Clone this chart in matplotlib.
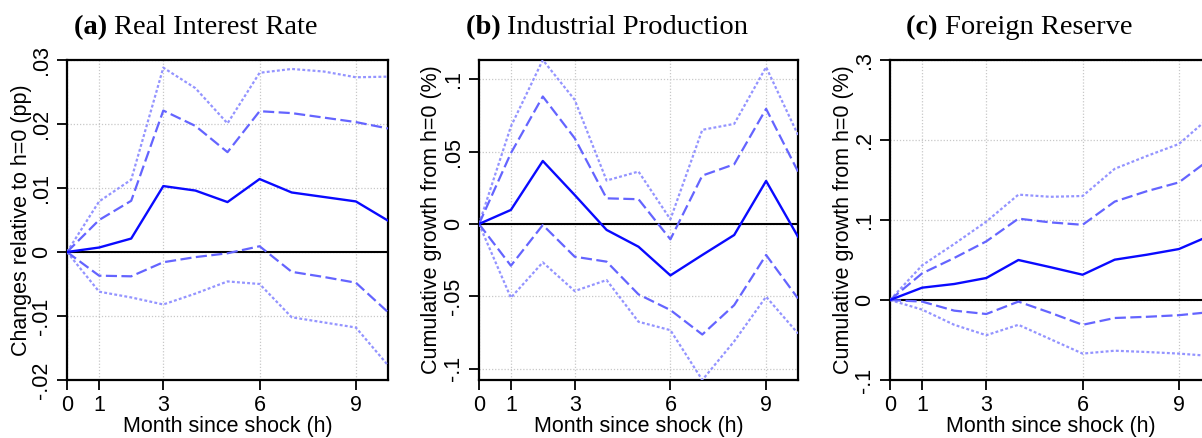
import matplotlib
matplotlib.use("Agg")
import matplotlib.pyplot as plt
import numpy as np

# Horizon (months since shock)
horizon = list(range(11))
xticks = [0, 1, 3, 6, 9]

# (a) Real interest rate: point estimate and 90% / 95% bands
irf_a = [0, 0.0007, 0.0021, 0.0103, 0.0096, 0.0078, 0.0114, 0.0093, 0.0086, 0.0079, 0.0049]
hi90_a = [0, 0.0050, 0.0080, 0.0221, 0.0197, 0.0156, 0.0220, 0.0217, 0.0210, 0.0203, 0.0193]
hi95_a = [0, 0.0079, 0.0113, 0.0288, 0.0256, 0.0201, 0.0280, 0.0286, 0.0282, 0.0273, 0.0274]
lo90_a = [0, -0.0037, -0.0038, -0.0016, -0.0008, -0.0002, 0.0009, -0.0031, -0.0039, -0.0048, -0.0094]
lo95_a = [0, -0.0062, -0.0071, -0.0082, -0.0065, -0.0046, -0.0050, -0.0102, -0.0110, -0.0118, -0.0177]
yticks_a = [-0.02, -0.01, 0, 0.01, 0.02, 0.03]
yticklabels_a = ["-.02", "-.01", "0", ".01", ".02", ".03"]

# (b) Industrial production
irf_b = [0, 0.0097, 0.0435, 0.0200, -0.0041, -0.0157, -0.0355, -0.0214, -0.0076, 0.0297, -0.0088]
hi90_b = [0, 0.0489, 0.0880, 0.0592, 0.0177, 0.0171, -0.0106, 0.0334, 0.0412, 0.0795, 0.0362]
hi95_b = [0, 0.0673, 0.1132, 0.0857, 0.0300, 0.0362, 0.0032, 0.0650, 0.0691, 0.1083, 0.0615]
lo90_b = [0, -0.0288, -0.0007, -0.0226, -0.0260, -0.0486, -0.0594, -0.0763, -0.0560, -0.0214, -0.0514]
lo95_b = [0, -0.0509, -0.0265, -0.0463, -0.0387, -0.0675, -0.0733, -0.1077, -0.0810, -0.0502, -0.0756]
yticks_b = [-0.1, -0.05, 0, 0.05, 0.1]
yticklabels_b = ["-.1", "-.05", "0", ".05", ".1"]

# (c) Foreign reserve
irf_c = [0, 0.0154, 0.0200, 0.0275, 0.0500, 0.0410, 0.0316, 0.0504, 0.0566, 0.0637, 0.0810]
hi90_c = [0, 0.0333, 0.0525, 0.0733, 0.1017, 0.0970, 0.0940, 0.1230, 0.1360, 0.1470, 0.1770]
hi95_c = [0, 0.0433, 0.0700, 0.0980, 0.1317, 0.1290, 0.1300, 0.1640, 0.1800, 0.1950, 0.2300]
lo90_c = [0, -0.0020, -0.0133, -0.0175, -0.0020, -0.0160, -0.0310, -0.0225, -0.0210, -0.0190, -0.0150]
lo95_c = [0, -0.0120, -0.0310, -0.0440, -0.0310, -0.0490, -0.0670, -0.0634, -0.0650, -0.0670, -0.0700]
yticks_c = [-0.1, 0, 0.1, 0.2, 0.3]
yticklabels_c = ["-.1", "0", ".1", ".2", ".3"]

titles_bold = ["(a)", "(b)", "(c)"]
titles = ["Real Interest Rate", "Industrial Production", "Foreign Reserve"]
ylabels = ["Changes relative to h=0 (pp)",
           "Cumulative growth from h=0 (%)",
           "Cumulative growth from h=0 (%)"]
xlabel = "Month since shock (h)"

W, H, DPI = 1202, 438, 100
fig = plt.figure(figsize=(W / DPI, H / DPI), dpi=DPI)

SANS = "Liberation Sans"
SERIF = "Liberation Serif"
C_IRF = "#0a0aff"
C_90 = "#6464ff"
C_95 = "#9494ff"

# panel boxes in pixels: left, top, right, bottom
boxes = [(67, 60, 388, 380), (479, 60, 798, 380), (890, 60, 1211, 380)]
title_centers = [196, 607, 1019]
ylabel_x = [21, 431, 843]

panels = [
    (irf_a, hi90_a, hi95_a, lo90_a, lo95_a, yticks_a, yticklabels_a),
    (irf_b, hi90_b, hi95_b, lo90_b, lo95_b, yticks_b, yticklabels_b),
    (irf_c, hi90_c, hi95_c, lo90_c, lo95_c, yticks_c, yticklabels_c),
]

renderer = fig.canvas.get_renderer()

for i, (irf, hi90, hi95, lo90, lo95, yt, ytl) in enumerate(panels):
    l, t, r, b = boxes[i]
    ax = fig.add_axes([l / W, 1 - b / H, (r - l) / W, (b - t) / H])

    ax.grid(True, color="#c8c8c8", linestyle=(0, (1, 1.5)), linewidth=0.9)
    ax.set_axisbelow(True)
    ax.axhline(0, color="black", linewidth=1.5, zorder=2)

    ax.plot(horizon, hi95, color=C_95, linewidth=1.6, linestyle=(0, (1.3, 1.0)), zorder=3)
    ax.plot(horizon, lo95, color=C_95, linewidth=1.6, linestyle=(0, (1.3, 1.0)), zorder=3)
    ax.plot(horizon, hi90, color=C_90, linewidth=1.6, linestyle=(0, (5, 2)), zorder=3)
    ax.plot(horizon, lo90, color=C_90, linewidth=1.6, linestyle=(0, (5, 2)), zorder=3)
    ax.plot(horizon, irf, color=C_IRF, linewidth=1.7, zorder=4)

    ymin = min(min(yt), min(lo95))
    ymax = max(max(yt), max(hi95))
    ax.set_xlim(0, 10)
    ax.set_ylim(ymin, ymax)

    ax.set_xticks(xticks)
    ax.set_xticklabels([str(v) for v in xticks], fontfamily=SANS, fontsize=15.5)
    ax.set_yticks(yt)
    ax.set_yticklabels(ytl, fontfamily=SANS, fontsize=15.5, rotation=90, va="center")
    ax.tick_params(axis="both", direction="out", length=7, width=1.3, color="black")
    ax.tick_params(axis="x", pad=3.5)
    ax.tick_params(axis="y", pad=4)

    for s in ax.spines.values():
        s.set_linewidth(1.6)
        s.set_color("black")

    ax.set_xlabel(xlabel, fontfamily=SANS, fontsize=15.5)
    ax.xaxis.set_label_coords(0.5, (b - 437) / (b - t))
    ax.xaxis.label.set_va("bottom")
    ax.set_ylabel(ylabels[i], fontfamily=SANS, fontsize=15.5, va="center")
    ax.yaxis.set_label_coords((ylabel_x[i] - l) / (r - l), 0.5)

    # panel title: bold letter followed by regular text, centred as a whole
    tb = fig.text(0, 0, titles_bold[i] + " ", fontfamily=SERIF, fontweight="bold", fontsize=20.5)
    tr = fig.text(0, 0, titles[i], fontfamily=SERIF, fontsize=20.5)
    wb = tb.get_window_extent(renderer).width
    wr = tr.get_window_extent(renderer).width
    x0 = title_centers[i] - (wb + wr) / 2
    yb = 1 - 34 / H
    tb.set_position((x0 / W, yb))
    tr.set_position(((x0 + wb) / W, yb))
    tb.set_va("baseline")
    tr.set_va("baseline")

fig.savefig("out.png", dpi=DPI)
